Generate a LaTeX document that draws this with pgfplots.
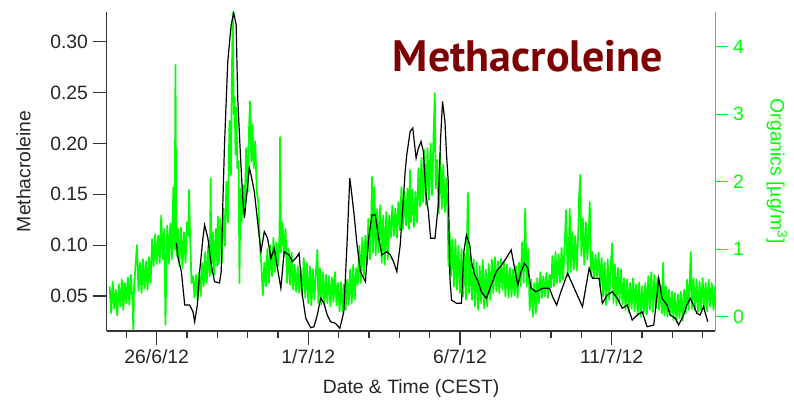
\documentclass[border=0pt]{standalone}
\usepackage{pgfplots}
\usepackage{pgfplotstable}
\pgfplotsset{compat=1.18}
\usepackage{fontspec}
\setmainfont{Liberation Sans}
\newfontfamily\titlefont{PT Sans}
\definecolor{orggreen}{HTML}{00FF00}
\definecolor{titlered}{HTML}{7F0000}
\definecolor{axgray}{HTML}{333333}
\newcommand{\lblfont}{\fontsize{14.5}{17}\selectfont}

% methacroleine, x = days after 26/6/12
\pgfplotstableread{
d v
0.652 0.1019
0.705 0.0871
0.816 0.0739
0.925 0.0411
1.089 0.0411
1.197 0.0345
1.252 0.0247
1.341 0.0411
1.416 0.0739
1.525 0.1068
1.580 0.1199
1.689 0.1068
1.800 0.0805
1.908 0.0641
2.072 0.0628
2.128 0.0739
2.180 0.1396
2.236 0.1986
2.344 0.2806
2.456 0.3167
2.541 0.3282
2.620 0.3167
2.672 0.2446
2.761 0.1888
2.836 0.1465
2.892 0.1268
2.980 0.1527
3.056 0.1757
3.111 0.1691
3.220 0.1527
3.328 0.1231
3.439 0.0936
3.548 0.1133
3.656 0.1068
3.767 0.0871
3.875 0.0969
4.039 0.0674
4.095 0.0576
4.203 0.0936
4.367 0.0904
4.475 0.0838
4.587 0.0871
4.695 0.0920
4.803 0.0510
4.915 0.0281
5.079 0.0188
5.187 0.0198
5.295 0.0313
5.407 0.0480
5.515 0.0431
5.623 0.0313
5.734 0.0247
5.898 0.0231
6.039 0.0182
6.170 0.0345
6.279 0.1034
6.367 0.1658
6.423 0.1527
6.498 0.1330
6.607 0.1002
6.718 0.0739
6.826 0.0674
6.882 0.0641
6.990 0.1068
7.098 0.1297
7.210 0.1297
7.318 0.1068
7.426 0.0904
7.590 0.0936
7.702 0.0904
7.810 0.0838
7.918 0.0739
8.030 0.1002
8.105 0.1330
8.193 0.1723
8.246 0.1888
8.357 0.2117
8.443 0.2151
8.554 0.1855
8.630 0.1954
8.718 0.2019
8.793 0.1920
8.882 0.1494
8.957 0.1330
9.033 0.1068
9.177 0.1068
9.285 0.1396
9.361 0.2052
9.426 0.2412
9.505 0.2216
9.557 0.1888
9.613 0.1625
9.669 0.0674
9.721 0.0461
9.885 0.0428
10.049 0.0428
10.128 0.0936
10.213 0.1100
10.325 0.1002
10.377 0.0838
10.489 0.0707
10.597 0.0641
10.705 0.0542
10.869 0.0477
11.033 0.0608
11.197 0.0739
11.360 0.0800
11.525 0.0871
11.689 0.0953
11.800 0.0773
11.908 0.0608
12.016 0.0739
12.128 0.0822
12.236 0.0773
12.344 0.0576
12.508 0.0542
12.728 0.0576
12.948 0.0576
13.056 0.0493
13.187 0.0411
13.328 0.0542
13.548 0.0723
13.767 0.0576
14.039 0.0395
14.259 0.0773
14.367 0.0674
14.587 0.0674
14.695 0.0428
14.859 0.0510
15.023 0.0542
15.187 0.0477
15.351 0.0379
15.515 0.0411
15.679 0.0264
15.843 0.0313
16.007 0.0345
16.170 0.0198
16.390 0.0215
16.498 0.0510
16.554 0.0674
16.662 0.0477
16.826 0.0411
16.934 0.0313
17.098 0.0281
17.210 0.0215
17.374 0.0313
17.482 0.0411
17.590 0.0477
17.702 0.0411
17.810 0.0330
17.918 0.0313
18.030 0.0395
18.170 0.0247
}\macrtable

% organics (ug/m3), noisy signal traced as high/low swings
\pgfplotstableread{
d v
-1.55 0.45
-1.50 0.05
-1.45 0.52
-1.40 0.12
-1.35 0.40
-1.30 0.02
-1.25 0.48
-1.20 0.15
-1.15 0.55
-1.10 0.10
-1.05 0.50
-1.00 0.20
-0.95 0.58
-0.90 0.18
-0.85 0.62
-0.80 0.25
-0.77 -0.20
-0.75 0.40
-0.70 0.75
-0.65 1.06
-0.60 0.38
-0.55 0.80
-0.50 0.35
-0.45 0.85
-0.40 0.42
-0.35 0.82
-0.30 0.40
-0.25 0.88
-0.20 0.50
-0.15 1.15
-0.10 0.75
-0.05 1.22
0.00 0.78
0.05 1.20
0.10 0.80
0.15 1.50
0.20 0.85
0.25 1.30
0.29 -0.12
0.32 0.80
0.35 1.35
0.40 0.78
0.45 1.38
0.50 0.85
0.55 1.92
0.59 1.00
0.62 3.73
0.65 0.90
0.70 1.30
0.75 0.75
0.80 1.32
0.85 0.72
0.90 1.25
0.95 0.80
1.00 1.40
1.05 1.20
1.07 1.88
1.10 1.20
1.15 0.50
1.20 0.60
1.25 0.28
1.30 0.62
1.35 0.25
1.40 0.66
1.45 0.30
1.50 0.80
1.55 0.45
1.60 0.96
1.65 0.50
1.70 1.05
1.75 0.60
1.78 2.05
1.80 0.65
1.85 1.25
1.90 0.62
1.95 1.30
2.00 0.75
2.02 1.48
2.05 0.78
2.10 1.45
2.15 0.80
2.20 1.60
2.25 1.05
2.30 2.00
2.35 1.40
2.40 2.90
2.45 2.10
2.48 3.60
2.51 4.50
2.54 3.00
2.57 3.24
2.60 2.40
2.63 3.10
2.66 2.20
2.70 2.30
2.73 0.50
2.76 1.90
2.80 1.40
2.85 1.95
2.90 1.50
2.95 2.50
3.00 1.85
3.04 2.73
3.08 3.19
3.12 2.30
3.16 2.84
3.20 2.20
3.25 2.60
3.30 1.85
3.35 1.70
3.40 1.10
3.45 0.77
3.50 0.32
3.55 0.80
3.60 0.45
3.65 1.00
3.70 0.50
3.75 1.06
3.80 0.60
3.85 1.17
3.90 0.66
3.95 1.10
4.00 0.75
4.05 1.20
4.07 2.66
4.10 0.95
4.15 1.40
4.20 0.90
4.25 1.30
4.30 0.50
4.35 1.00
4.40 0.47
4.45 0.95
4.50 0.40
4.55 0.77
4.60 0.37
4.65 0.75
4.70 0.35
4.75 0.72
4.80 0.30
4.85 0.87
4.90 0.28
4.95 0.80
5.00 0.20
5.05 0.75
5.10 0.17
5.15 0.70
5.20 0.25
5.25 0.65
5.30 0.99
5.33 0.20
5.38 0.72
5.43 0.18
5.48 0.66
5.53 0.17
5.58 0.62
5.63 0.20
5.68 0.60
5.73 0.15
5.78 0.58
5.83 0.22
5.88 0.66
5.93 0.17
5.98 0.50
6.03 0.08
6.08 0.51
6.13 0.07
6.18 0.48
6.23 0.10
6.28 0.55
6.33 0.17
6.38 0.70
6.43 0.20
6.48 0.77
6.53 0.25
6.58 0.72
6.63 0.47
6.68 1.05
6.73 0.50
6.78 1.17
6.83 0.60
6.88 1.20
6.93 0.77
6.98 1.45
7.03 0.85
7.08 1.55
7.10 2.07
7.13 0.95
7.18 1.92
7.22 0.91
7.27 1.60
7.32 0.95
7.37 1.65
7.42 0.80
7.47 1.50
7.52 0.77
7.57 1.55
7.62 0.85
7.67 1.50
7.72 1.17
7.77 1.65
7.82 1.20
7.87 1.60
7.92 1.17
7.97 1.70
8.02 1.28
8.07 1.92
8.12 1.30
8.17 1.85
8.22 1.35
8.27 1.90
8.32 1.30
8.35 2.17
8.38 1.40
8.43 1.88
8.48 1.33
8.53 1.85
8.58 1.40
8.63 2.20
8.68 1.63
8.73 2.35
8.78 1.70
8.83 2.47
8.88 1.65
8.93 2.50
8.98 1.73
9.03 2.57
9.08 1.80
9.13 2.70
9.17 3.31
9.20 1.90
9.25 2.32
9.30 1.53
9.35 2.42
9.40 1.60
9.45 2.25
9.50 1.55
9.55 2.05
9.60 1.45
9.62 0.75
9.66 1.24
9.70 0.60
9.75 1.15
9.80 0.45
9.85 1.14
9.90 0.40
9.95 1.05
10.00 0.35
10.05 1.00
10.10 0.30
10.15 0.94
10.20 0.25
10.26 1.84
10.30 0.35
10.35 0.90
10.40 0.25
10.45 0.85
10.50 0.15
10.55 0.80
10.60 0.10
10.65 0.75
10.70 0.20
10.75 0.84
10.80 0.12
10.85 0.70
10.90 0.15
10.95 0.78
11.00 0.25
11.05 0.85
11.10 0.35
11.15 0.88
11.20 0.38
11.25 0.82
11.30 0.35
11.35 0.86
11.40 0.40
11.45 0.80
11.50 0.30
11.55 0.77
11.60 0.28
11.65 0.72
11.70 0.30
11.75 0.70
11.80 0.32
11.85 0.75
11.90 0.28
11.95 0.80
12.00 0.45
12.05 1.10
12.10 0.50
12.15 1.60
12.20 0.45
12.25 1.00
12.30 0.10
12.35 0.55
12.40 0.00
12.45 0.50
12.50 0.05
12.55 0.57
12.60 0.20
12.65 0.66
12.70 0.28
12.75 0.60
12.80 0.30
12.85 0.65
12.90 0.28
12.95 0.62
13.00 0.43
13.05 0.90
13.10 0.45
13.15 0.96
13.20 0.50
13.25 0.92
13.30 0.51
13.35 1.02
13.40 0.55
13.45 1.06
13.50 1.58
13.55 0.60
13.60 1.20
13.62 1.60
13.65 0.66
13.70 1.26
13.75 0.70
13.80 1.20
13.85 0.68
13.90 1.25
13.93 1.80
13.97 2.10
14.00 0.90
14.05 1.46
14.10 0.77
14.15 1.40
14.20 0.85
14.25 1.30
14.28 1.70
14.32 0.60
14.37 0.96
14.42 0.57
14.47 0.92
14.52 0.60
14.57 0.95
14.62 0.45
14.67 0.87
14.72 0.30
14.77 0.80
14.82 0.17
14.87 0.85
14.92 0.25
14.97 0.75
15.02 1.09
15.06 0.20
15.11 0.77
15.16 0.17
15.21 0.72
15.26 0.22
15.31 0.70
15.36 0.18
15.41 0.57
15.46 0.10
15.51 0.55
15.56 0.07
15.61 0.50
15.66 0.12
15.71 0.57
15.76 0.08
15.81 0.48
15.86 0.02
15.91 0.51
15.96 0.00
16.01 0.45
16.06 0.05
16.11 0.50
16.16 0.03
16.21 0.60
16.26 0.10
16.31 0.66
16.36 0.07
16.41 0.62
16.46 0.12
16.51 0.58
16.56 0.10
16.61 0.47
16.66 0.05
16.70 0.80
16.74 0.02
16.79 0.45
16.84 0.00
16.89 0.40
16.94 0.02
16.99 0.37
17.04 -0.05
17.09 0.35
17.14 -0.08
17.19 0.33
17.24 -0.02
17.29 0.37
17.34 -0.06
17.39 0.40
17.44 0.05
17.49 0.55
17.54 0.10
17.61 0.96
17.65 0.12
17.70 0.57
17.75 0.10
17.80 0.55
17.85 0.07
17.90 0.52
17.95 0.10
18.00 0.57
18.05 0.12
18.10 0.50
18.15 0.08
18.20 0.55
18.25 0.15
18.30 0.50
18.36 0.10
18.42 0.45
}\orgtable

\begin{document}
\begin{tikzpicture}
\path[use as bounding box] (-80.0pt,-51.75pt) rectangle (515.5pt,248.25pt);

% right axis: organics
\begin{axis}[
    scale only axis, width=456.6pt, height=239.5pt,
    xmin=-1.649, xmax=18.424,
    ymin=-0.212, ymax=4.519,
    axis x line=none,
    axis y line*=right,
    axis line style={draw=orggreen, line width=0.8pt, -},
    ytick={0,1,2,3,4}, yticklabels={0,1,2,3,4},
    tick align=outside, major tick length=9.75pt,
    ytick style={draw=orggreen, line width=0.8pt},
    yticklabel style={font=\lblfont, text=orggreen},
    ylabel={Organics [µg/m\textsuperscript{3}]},
    every axis y label/.style={at={(rel axis cs:1,0.5)}, xshift=46pt,
        rotate=-90, anchor=center, font=\lblfont, text=orggreen},
]
\addplot[orggreen, line width=1.3pt, line join=round] table {\orgtable};
\end{axis}

% left axis: methacroleine
\begin{axis}[
    scale only axis, width=456.6pt, height=239.5pt,
    xmin=-1.649, xmax=18.424,
    ymin=0.0156, ymax=0.3295,
    axis x line*=bottom, axis y line*=left,
    axis line style={draw=axgray, line width=0.9pt, -},
    xtick={0,5,10,15}, xticklabels={26/6/12,1/7/12,6/7/12,11/7/12},
    minor xtick={-1,1,2,3,4,6,7,8,9,11,12,13,14,16,17,18},
    ytick={0.05,0.10,0.15,0.20,0.25,0.30},
    yticklabels={0.05,0.10,0.15,0.20,0.25,0.30},
    tick align=outside,
    major tick length=10.5pt, minor tick length=5pt,
    tick style={draw=axgray, line width=0.9pt},
    ticklabel style={font=\lblfont, text=black!85},
    xlabel={Date \& Time (CEST)}, ylabel={Methacroleine},
    every axis x label/.style={at={(rel axis cs:0.5,0)}, yshift=-42.75pt,
        anchor=center, font=\lblfont, text=black!85},
    every axis y label/.style={at={(rel axis cs:0,0.5)}, xshift=-62.4pt,
        rotate=90, anchor=center, font=\lblfont, text=black!85},
]
\addplot[black, line width=0.9pt] table {\macrtable};
\node[font=\titlefont\bfseries\fontsize{33}{36}\selectfont, text=titlered]
    at (rel axis cs:0.692,0.861) {Methacroleine};
\end{axis}
\end{tikzpicture}
\end{document}
